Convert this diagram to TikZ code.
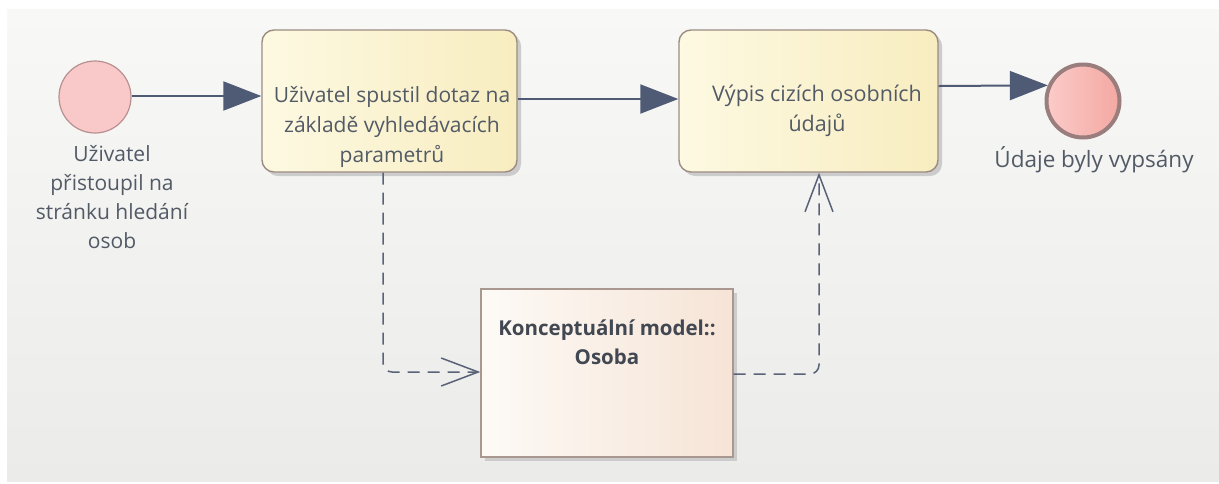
\documentclass[tikz,border=0pt]{standalone}
\usepackage{fontspec}
\setmainfont{Open Sans}
\usetikzlibrary{arrows.meta,calc}
\definecolor{panelTop}{HTML}{F8F8F6}
\definecolor{panelBot}{HTML}{EBEBE9}
\definecolor{flow}{HTML}{4F5A75}
\definecolor{dep}{HTML}{5A6278}
\definecolor{txt}{HTML}{525A66}
\definecolor{taskA}{HTML}{FDF9E2}
\definecolor{taskB}{HTML}{F8EDC0}
\definecolor{taskLine}{HTML}{9C8C82}
\definecolor{evFill}{HTML}{F9C8C8}
\definecolor{evLine}{HTML}{B89090}
\definecolor{endA}{HTML}{FBCBC8}
\definecolor{endB}{HTML}{F4A8A2}
\definecolor{endLine}{HTML}{9A7E7E}
\definecolor{objA}{HTML}{FDFAF6}
\definecolor{objB}{HTML}{F6E4D6}
\definecolor{objLine}{HTML}{A89890}
\tikzset{
  px/.style={x=1pt,y=-1pt},
  task/.style={rectangle, rounded corners=12pt, draw=taskLine, line width=1.4pt,
    left color=taskA, right color=taskB, inner sep=0pt},
  tasktext/.style={align=center, text=txt, font=\fontsize{21}{30}\selectfont},
  startev/.style={circle, draw=evLine, line width=1.2pt, fill=evFill,
    minimum size=72pt, inner sep=0pt},
  endev/.style={circle, draw=endLine, line width=4pt, left color=endA, right color=endB,
    minimum size=73pt, inner sep=0pt},
  dataobj/.style={rectangle, draw=objLine, line width=1.4pt, left color=objA,
    right color=objB, inner sep=0pt},
  objtext/.style={align=center, text=txt!80!black, font=\bfseries\fontsize{20.5}{29}\selectfont},
  evlabel/.style={text=txt, align=center, font=\fontsize{21}{29}\selectfont},
  seqflow/.style={draw=flow, line width=2pt,
    -{Triangle[length=38pt,width=29pt]}},
  assoc/.style={draw=dep, line width=1.5pt, dash pattern=on 12pt off 8pt,
    rounded corners=9pt, -{Straight Barb[length=37pt,width=28pt,line width=1.5pt]}},
  shadowbox/.style={fill=black!20, draw=none}
}
\begin{document}
\begin{tikzpicture}[px]
\useasboundingbox (0,0) rectangle (1219,483);
% background panel
\shade[top color=panelTop, bottom color=panelBot] (7,9) rectangle (1219,481);

% shadows under the tasks and the data object
\fill[shadowbox, rounded corners=12pt] (266,34) rectangle (521,176);
\fill[shadowbox, rounded corners=12pt] (683,34) rectangle (942,176);
\fill[shadowbox] (485,293) rectangle (737,461);

% events
\node[startev] (start) at (95,97) {};
\node[evlabel] (startlbl) at (112,197) {Uživatel\\přistoupil na\\stránku hledání\\osob};
\node[endev] (end) at (1083,101) {};
\node[evlabel, font=\fontsize{22.5}{29}\selectfont] (endlbl) at (1094,160) {Údaje byly vypsány};

% tasks
\node[task, minimum width=255pt, minimum height=142pt] (query) at (389.5,101) {};
\node[tasktext] (querytxt) at (392,127)
  {Uživatel spustil dotaz na\\základě vyhledávacích\\parametrů};
\node[task, minimum width=259pt, minimum height=142pt] (list) at (808.5,101) {};
\node[tasktext, font=\fontsize{21.5}{30}\selectfont] (listtxt) at (817,111)
  {Výpis cizích osobních\\údajů};

% data object
\node[dataobj, minimum width=252pt, minimum height=168pt] (person) at (607,373) {};
\node[objtext] (persontxt) at (607,342) {Konceptuální model::\\Osoba};

% sequence flows
\draw[seqflow] ([yshift=1pt]start.east) -- ([yshift=1pt]start.east -| query.west);
\draw[seqflow] ([yshift=2pt]query.east) -- ([yshift=2pt]list.west);
\draw[seqflow] ([yshift=15pt]list.east) -- (end.156);

% data associations
\draw[assoc] ([xshift=-6.5pt]query.south) |- ([yshift=1pt]person.west);
\draw[assoc] ([yshift=-1pt]person.east) -| ([xshift=10.5pt]list.south);
\end{tikzpicture}
\end{document}
